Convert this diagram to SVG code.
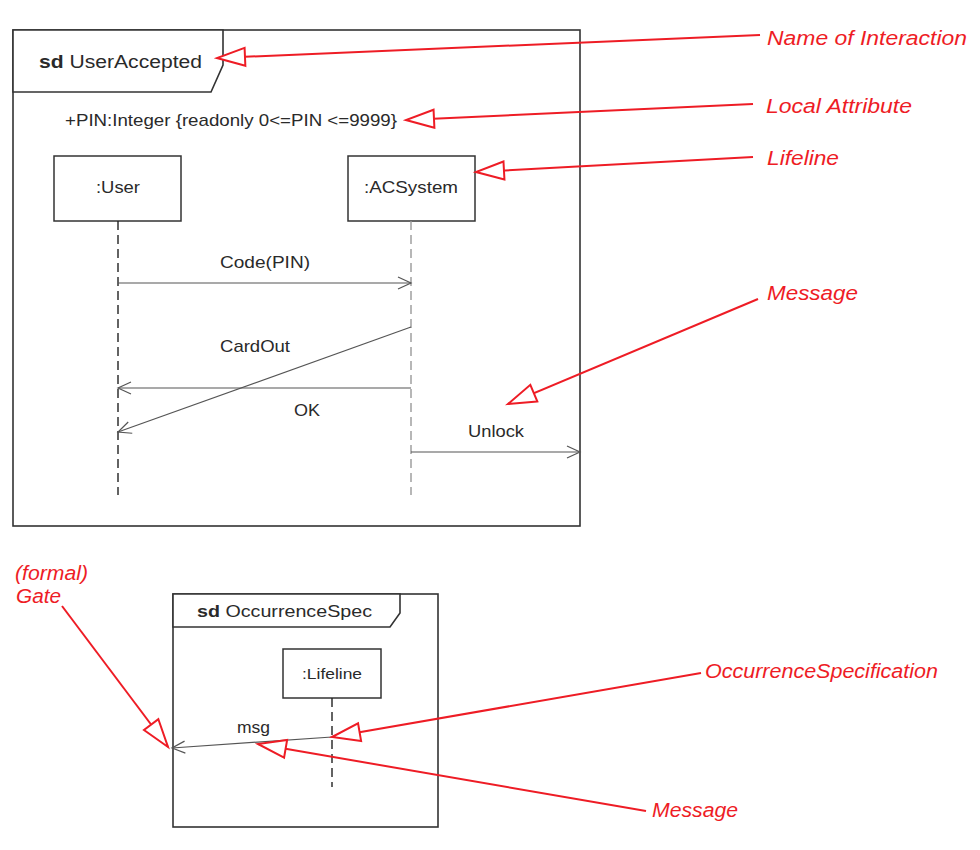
<svg xmlns="http://www.w3.org/2000/svg" width="980" height="850" viewBox="0 0 980 850">
  <style>
    .frame { fill: none; stroke: #333; stroke-width: 1.6; }
    .tab { fill: #fff; stroke: #333; stroke-width: 1.6; }
    .box { fill: #fff; stroke: #333; stroke-width: 1.5; }
    .txt { font-family: "Liberation Sans", Arial, sans-serif; fill: #2a2a2a; }
    .note { font-family: "Liberation Sans", Arial, sans-serif; font-style: italic; fill: #ee1c25; }
    .msg { stroke: #555; stroke-width: 1.2; fill: none; marker-end: url(#open); }
    .life { stroke: #222; stroke-width: 1.4; stroke-dasharray: 9 5; }
    .lifeg { stroke: #999; stroke-width: 1.4; stroke-dasharray: 9 5; }
    .ann { stroke: #ee1c25; stroke-width: 2; fill: none; marker-end: url(#tri); }
  </style>
  <defs>
    <marker id="open" markerUnits="userSpaceOnUse" markerWidth="16" markerHeight="16" refX="13" refY="6" orient="auto" overflow="visible">
      <path d="M0,0 L13,6 L0,12" fill="none" stroke="#555" stroke-width="1.2"/>
    </marker>
    <marker id="tri" markerUnits="userSpaceOnUse" markerWidth="32" markerHeight="22" refX="29" refY="9" orient="auto" overflow="visible">
      <path d="M1,0 L29,9 L1,18 Z" fill="#fff" stroke="#ee1c25" stroke-width="2"/>
    </marker>
  </defs>
  <rect width="980" height="850" fill="#fff"/>

  <g id="frame-useraccepted">
    <rect class="frame" x="13" y="30" width="567" height="496"/>
    <path class="tab" d="M13,30 L223,30 L223,65 L211,92 L13,92 Z"/>
    <text class="txt" x="39" y="68" font-size="18" textLength="163" lengthAdjust="spacingAndGlyphs"><tspan font-weight="bold">sd</tspan> UserAccepted</text>
    <text class="txt" x="65" y="126" font-size="17" textLength="332" lengthAdjust="spacingAndGlyphs">+PIN:Integer {readonly 0&lt;=PIN &lt;=9999}</text>
  </g>

  <g id="lifeline-user">
    <rect class="box" x="54" y="156" width="127" height="65"/>
    <text class="txt" x="96" y="193" font-size="17" textLength="44" lengthAdjust="spacingAndGlyphs">:User</text>
    <line class="life" x1="118" y1="221" x2="118" y2="495"/>
  </g>

  <g id="lifeline-acsystem">
    <rect class="box" x="348" y="156" width="127" height="65"/>
    <text class="txt" x="364" y="193" font-size="17" textLength="94" lengthAdjust="spacingAndGlyphs">:ACSystem</text>
    <line class="lifeg" x1="411" y1="221" x2="411" y2="495"/>
  </g>

  <g id="frame-occurrencespec">
    <rect class="frame" x="173" y="594" width="265" height="233"/>
    <path class="tab" d="M173,594 L400,594 L400,613 L390,627 L173,627 Z"/>
    <text class="txt" x="197" y="617" font-size="17" textLength="175" lengthAdjust="spacingAndGlyphs"><tspan font-weight="bold">sd</tspan> OccurrenceSpec</text>
  </g>

  <g id="lifeline-lifeline">
    <rect class="box" x="283" y="649" width="98" height="49"/>
    <text class="txt" x="302" y="679" font-size="15" textLength="60" lengthAdjust="spacingAndGlyphs">:Lifeline</text>
    <line class="life" x1="332" y1="698" x2="332" y2="787"/>
  </g>

  <g id="connectors">
    <line class="msg" x1="118" y1="283" x2="411" y2="283"/>
    <line class="msg" x1="411" y1="327" x2="118" y2="432"/>
    <line class="msg" x1="411" y1="388" x2="118" y2="388"/>
    <line class="msg" x1="411" y1="452" x2="580" y2="452"/>
    <line class="msg" x1="332" y1="737" x2="172" y2="748"/>

    <line class="ann" x1="760" y1="35" x2="217" y2="58"/>
    <line class="ann" x1="753" y1="104" x2="406" y2="120"/>
    <line class="ann" x1="753" y1="157" x2="476" y2="172"/>
    <line class="ann" x1="758" y1="299" x2="508" y2="404"/>
    <line class="ann" x1="62" y1="606" x2="168" y2="747"/>
    <line class="ann" x1="701" y1="673" x2="332" y2="737"/>
    <line class="ann" x1="646" y1="811" x2="258" y2="744"/>
  </g>

  <g id="message-labels">
    <text class="txt" x="220" y="268" font-size="17" textLength="90" lengthAdjust="spacingAndGlyphs">Code(PIN)</text>
    <text class="txt" x="220" y="352" font-size="17" textLength="70" lengthAdjust="spacingAndGlyphs">CardOut</text>
    <text class="txt" x="294" y="416" font-size="17" textLength="26" lengthAdjust="spacingAndGlyphs">OK</text>
    <text class="txt" x="468" y="437" font-size="17" textLength="56" lengthAdjust="spacingAndGlyphs">Unlock</text>
    <text class="txt" x="237" y="733" font-size="16" textLength="33" lengthAdjust="spacingAndGlyphs">msg</text>
  </g>

  <g id="annotations">
    <text class="note" x="767" y="45" font-size="20" textLength="200" lengthAdjust="spacingAndGlyphs">Name of Interaction</text>
    <text class="note" x="766" y="113" font-size="20" textLength="146" lengthAdjust="spacingAndGlyphs">Local Attribute</text>
    <text class="note" x="767" y="165" font-size="20" textLength="72" lengthAdjust="spacingAndGlyphs">Lifeline</text>
    <text class="note" x="767" y="300" font-size="20" textLength="91" lengthAdjust="spacingAndGlyphs">Message</text>
    <text class="note" x="15" y="580" font-size="20" textLength="73" lengthAdjust="spacingAndGlyphs">(formal)</text>
    <text class="note" x="16" y="603" font-size="20" textLength="45" lengthAdjust="spacingAndGlyphs">Gate</text>
    <text class="note" x="705" y="678" font-size="20" textLength="233" lengthAdjust="spacingAndGlyphs">OccurrenceSpecification</text>
    <text class="note" x="652" y="817" font-size="20" textLength="86" lengthAdjust="spacingAndGlyphs">Message</text>
  </g>
</svg>
